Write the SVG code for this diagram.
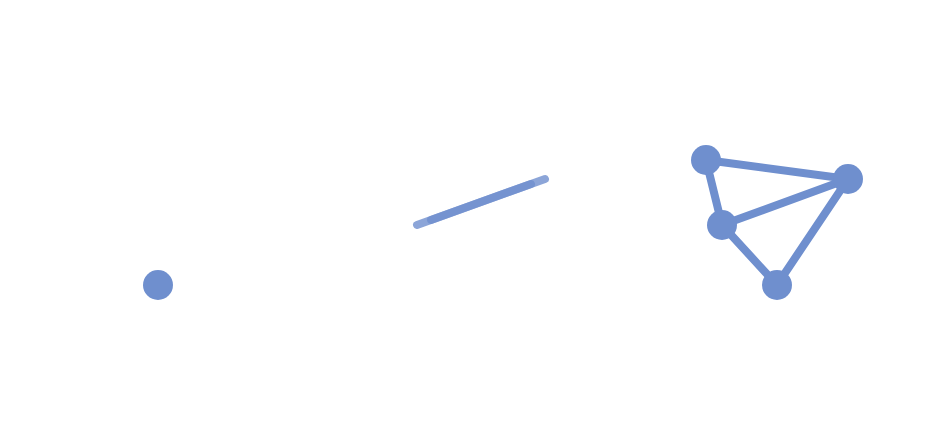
<svg xmlns="http://www.w3.org/2000/svg" width="936" height="426" viewBox="0 0 936 426">
<style>
.n{fill:#6f8fce}
.e{stroke:#6f8fce;stroke-width:8;stroke-linecap:round;fill:none}
.s{stroke:#6f8fce;stroke-width:8;stroke-linecap:round;stroke-opacity:0.8}
</style>
<rect width="936" height="426" fill="#fff"/>
<g id="dot"><circle class="n" cx="158" cy="285" r="15"/></g>
<g id="segment">
<line class="s" x1="417" y1="225" x2="531" y2="184"/>
<line class="s" x1="431" y1="220" x2="545" y2="179"/>
</g>
<g id="connectors">
<line class="e" x1="706" y1="160" x2="848" y2="179"/>
<line class="e" x1="706" y1="160" x2="722" y2="225"/>
<line class="e" x1="722" y1="225" x2="848" y2="179"/>
<line class="e" x1="722" y1="225" x2="777" y2="285"/>
<line class="e" x1="777" y1="285" x2="848" y2="179"/>
</g>
<g id="nA"><circle class="n" cx="706" cy="160" r="15"/></g>
<g id="nB"><circle class="n" cx="848" cy="179" r="15"/></g>
<g id="nC"><circle class="n" cx="722" cy="225" r="15"/></g>
<g id="nD"><circle class="n" cx="777" cy="285" r="15"/></g>
</svg>
